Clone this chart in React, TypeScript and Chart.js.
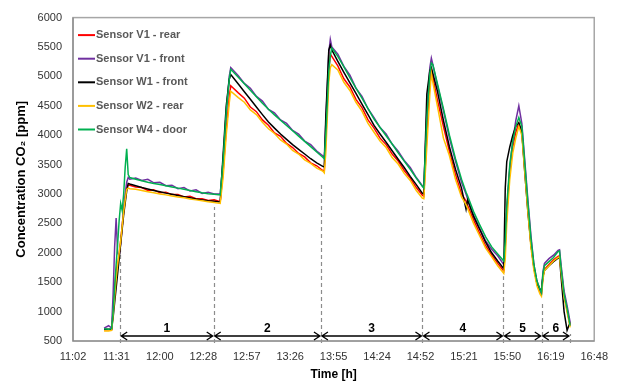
import React, { useEffect, useRef } from "react";
import { Chart, registerables } from "chart.js";

Chart.register(...registerables);

// ---- data ----
const times = [
  "11:23", "11:26", "11:28",
  "11:29", "11:30", "11:31", "11:32", "11:33", "11:34", "11:35", "11:36", "11:37", "11:38", "11:39",
  "11:40", "11:44", "11:48", "11:52", "11:56", "12:00", "12:04", "12:08", "12:12", "12:16", "12:20", "12:24", "12:28", "12:32", "12:36", "12:40",
  "12:42", "12:44", "12:46", "12:47",
  "12:52", "12:56", "13:00", "13:04", "13:08", "13:12", "13:16", "13:20", "13:24", "13:28", "13:32", "13:36", "13:40", "13:44", "13:48", "13:49",
  "13:50", "13:52", "13:53", "13:54",
  "13:58", "14:02", "14:06", "14:10", "14:14", "14:18", "14:22", "14:26", "14:30", "14:34", "14:38", "14:42", "14:46", "14:50", "14:54",
  "14:55", "14:57", "14:59", "15:00", "15:01",
  "15:04", "15:08", "15:12", "15:16", "15:20", "15:23", "15:24", "15:28", "15:32", "15:36", "15:40", "15:44", "15:48",
  "15:49", "15:50", "15:52", "15:54", "15:56", "15:58", "16:00",
  "16:02", "16:04", "16:06", "16:08", "16:10", "16:12", "16:13",
  "16:14", "16:15", "16:18", "16:21", "16:24", "16:25", "16:26", "16:28", "16:30", "16:32",
];

const sensorV1Rear = [
  690, 690, 690,
  1000, 1400, 1700, 1800, 1950, 2200, 2450, 2700, 2900, 3100, 3150,
  3150, 3120, 3110, 3060, 3070, 3020, 3030, 2990, 2990, 2950, 2960, 2920, 2920, 2890, 2900, 2870,
  3400, 4100, 4650, 4840,
  4720, 4630, 4480, 4400, 4260, 4170, 4040, 3980, 3860, 3790, 3690, 3630, 3530, 3480, 3400, 3390,
  3900, 5100, 5380, 5340,
  5180, 4960, 4820, 4610, 4470, 4260, 4120, 3950, 3840, 3680, 3560, 3400, 3270, 3110, 2980,
  2960, 4000, 4900, 5100, 4980,
  4600, 4150, 3720, 3330, 3000, 2880, 2810, 2560, 2330, 2120, 1960, 1820, 1690,
  2100, 2700, 3400, 3800, 4050, 4200, 4050,
  3400, 2750, 2150, 1750, 1480, 1330, 1300,
  1600, 1720, 1800, 1880, 1940, 1950, 1700, 1280, 1020, 760,
];

const sensorV1Front = [
  720, 760, 720,
  1300, 2100, 2590, 2000, 1950, 2150, 2450, 2750, 3000, 3200, 3280,
  3250, 3270, 3230, 3250, 3190, 3200, 3140, 3150, 3090, 3110, 3050, 3070, 3010, 3030, 3000, 3000,
  3600, 4400, 5000, 5150,
  5010, 4880, 4800, 4660, 4580, 4440, 4380, 4260, 4200, 4080, 4020, 3900, 3840, 3730, 3650, 3620,
  4200, 5400, 5630, 5500,
  5380, 5170, 5020, 4800, 4660, 4450, 4300, 4130, 4020, 3850, 3730, 3570, 3450, 3280, 3140,
  3110, 4400, 5150, 5310, 5200,
  4850, 4420, 3950, 3560, 3200, 3000, 2920, 2640, 2420, 2200, 2060, 1950, 1800,
  2150, 2700, 3450, 3900, 4250, 4500, 4200,
  3550, 2900, 2300, 1800, 1520, 1380, 1320,
  1680, 1820, 1900, 1960, 2040, 2050, 1800, 1350, 1100, 820,
];

const sensorW1Front = [
  700, 700, 700,
  900, 1150, 1400, 1650, 1900, 2150, 2400, 2650, 2850, 3050, 3180,
  3170, 3140, 3110, 3085, 3060, 3040, 3015, 2995, 2975, 2955, 2935, 2915, 2900, 2885, 2875, 2865,
  3700, 4500, 4950, 5030,
  4870, 4740, 4610, 4480, 4350, 4225, 4120, 4020, 3930, 3840, 3760, 3680, 3600, 3530, 3470, 3460,
  4300, 5450, 5530, 5450,
  5255, 5070, 4890, 4710, 4530, 4350, 4166, 4020, 3880, 3735, 3590, 3450, 3300, 3160, 3015,
  3000, 4700, 5100, 5150, 5050,
  4750, 4250, 3800, 3420, 3100, 2740, 2900, 2620, 2400, 2180, 2000, 1860, 1730,
  3100, 3550, 3800, 4000, 4150, 4210, 4050,
  3350, 2700, 2150, 1750, 1480, 1380, 1360,
  1600, 1700, 1780, 1850, 1910, 1920, 1600, 1000, 680, 820,
];

const sensorW2Rear = [
  670, 670, 680,
  950, 1250, 1550, 1800, 2000, 2200, 2450, 2700, 2900, 3080, 3100,
  3090, 3080, 3060, 3040, 3020, 3000, 2985, 2965, 2950, 2935, 2915, 2900, 2885, 2870, 2855, 2840,
  3300, 4000, 4550, 4750,
  4640, 4560, 4430, 4350, 4220, 4110, 4030, 3920, 3850, 3740, 3680, 3580, 3520, 3440, 3390, 3360,
  3700, 4900, 5150, 5200,
  5110, 4900, 4760, 4560, 4410, 4200, 4050, 3900, 3790, 3620, 3510, 3350, 3230, 3060, 2930,
  2920, 3800, 4700, 5050, 4900,
  4500, 3950, 3650, 3250, 2950, 2820, 2760, 2500, 2290, 2080, 1930, 1780, 1650,
  1900, 2500, 3250, 3700, 3950, 4150, 4000,
  3350, 2700, 2100, 1700, 1440, 1300, 1260,
  1550, 1700, 1780, 1860, 1920, 1930, 1680, 1250, 990, 730,
];

const sensorW4Door = [
  710, 700, 710,
  1000, 1400, 1800, 2150, 2550, 2840, 2720, 3000, 3450, 3770, 3330,
  3280, 3250, 3225, 3200, 3180, 3160, 3140, 3120, 3100, 3080, 3060, 3040, 3020, 3005, 2995, 2985,
  3600, 4400, 4950, 5120,
  4985, 4875, 4765, 4655, 4545, 4440, 4345, 4255, 4165, 4075, 3985, 3895, 3805, 3715, 3625, 3600,
  4000, 5100, 5350, 5480,
  5340, 5160, 4980, 4800, 4630, 4450, 4275, 4130, 3990, 3850, 3700, 3560, 3420, 3270, 3130,
  3100, 4300, 5050, 5226, 5200,
  4880, 4450, 4000, 3600, 3250, 3030, 2970, 2700, 2480, 2270, 2100, 1980, 1860,
  2200, 2800, 3500, 3900, 4150, 4300, 4150,
  3500, 2850, 2250, 1800, 1520, 1380, 1320,
  1650, 1780, 1850, 1920, 2020, 2030, 1750, 1300, 1050, 760,
];

const seriesLabels = [
  "Sensor V1 - rear",
  "Sensor V1 - front",
  "Sensor W1 - front",
  "Sensor W2 - rear",
  "Sensor W4 - door",
];
const seriesColors = ["#FF0000", "#7030A0", "#000000", "#FFC000", "#00B050"];
const seriesValues = [sensorV1Rear, sensorV1Front, sensorW1Front, sensorW2Rear, sensorW4Door];

// x axis (minutes after midnight) – Excel-like 0.02 day steps
const xTickMinutes = [662.4, 691.2, 720, 748.8, 777.6, 806.4, 835.2, 864, 892.8, 921.6, 950.4, 979.2, 1008];
const xTickLabels = ["11:02", "11:31", "12:00", "12:28", "12:57", "13:26", "13:55", "14:24", "14:52", "15:21", "15:50", "16:19", "16:48"];
const yMin = 500;
const yMax = 6000;
const yStep = 500;

// phases
const phaseBounds = [693.7, 755.7, 826.8, 894.1, 947.8, 973.2, 991.9];
const phaseDashTop = [2300, 2780, 3160, 2870, 1600, 1150, 620];
const phaseLabels = ["1", "2", "3", "4", "5", "6"];

const FONT = "'Liberation Sans', Arial, Helvetica, sans-serif";

function toMinutes(s: string): number {
  const [h, m] = s.split(":").map(Number);
  return h * 60 + m;
}

const decorPlugin = {
  id: "decor",
  beforeDatasetsDraw(chart: any) {
    const { ctx, chartArea: a, scales } = chart;
    const xs = scales.x;
    const ys = scales.y;
    ctx.save();
    ctx.strokeStyle = "#8c8c8c";
    ctx.lineWidth = 1.2;
    ctx.setLineDash([4, 3]);
    phaseBounds.forEach((t, i) => {
      const x = Math.round(xs.getPixelForValue(t)) + 0.5;
      ctx.beginPath();
      ctx.moveTo(x, a.bottom + 2);
      ctx.lineTo(x, ys.getPixelForValue(phaseDashTop[i]));
      ctx.stroke();
    });
    ctx.restore();
  },
  afterDatasetsDraw(chart: any) {
    const { ctx, chartArea: a, scales } = chart;
    const xs = scales.x;
    ctx.save();
    // plot frame
    ctx.strokeStyle = "#a6a6a6";
    ctx.lineWidth = 1.5;
    ctx.strokeRect(a.left, a.top, a.right - a.left, a.bottom - a.top);
    ctx.strokeStyle = "#868686";
    ctx.lineWidth = 1.2;
    ctx.beginPath();
    ctx.moveTo(a.left, a.top);
    ctx.lineTo(a.left, a.bottom);
    ctx.lineTo(a.right, a.bottom);
    ctx.stroke();

    // phase arrows
    const yA = a.bottom - 5;
    ctx.strokeStyle = "#000";
    ctx.fillStyle = "#000";
    ctx.lineWidth = 1.3;
    ctx.font = `bold 12px ${FONT}`;
    ctx.textAlign = "center";
    ctx.textBaseline = "middle";
    for (let i = 0; i < phaseLabels.length; i++) {
      const x1 = xs.getPixelForValue(phaseBounds[i]) + 1;
      const x2 = xs.getPixelForValue(phaseBounds[i + 1]) - 1;
      ctx.beginPath();
      ctx.moveTo(x1, yA);
      ctx.lineTo(x2, yA);
      ctx.moveTo(x1 + 6, yA - 4);
      ctx.lineTo(x1, yA);
      ctx.lineTo(x1 + 6, yA + 4);
      ctx.moveTo(x2 - 6, yA - 4);
      ctx.lineTo(x2, yA);
      ctx.lineTo(x2 - 6, yA + 4);
      ctx.stroke();
      ctx.fillText(phaseLabels[i], (x1 + x2) / 2, yA - 7.5);
    }

    // legend inside plot
    ctx.font = `bold 11px ${FONT}`;
    ctx.textAlign = "left";
    ctx.textBaseline = "middle";
    seriesLabels.forEach((lab, i) => {
      const y = a.top + 17.5 + i * 23.6;
      ctx.strokeStyle = seriesColors[i];
      ctx.lineWidth = 2;
      ctx.beginPath();
      ctx.moveTo(a.left + 5, y);
      ctx.lineTo(a.left + 22, y);
      ctx.stroke();
      ctx.fillStyle = "#595959";
      ctx.fillText(lab, a.left + 23, y);
    });
    ctx.restore();
  },
};

export default function App() {
  const canvasRef = useRef<HTMLCanvasElement | null>(null);

  useEffect(() => {
    if (!canvasRef.current) return;
    const xVals = times.map(toMinutes);
    const datasets = seriesValues.map((vals, i) => ({
      label: seriesLabels[i],
      data: vals.map((v, j) => ({ x: xVals[j], y: v })),
      borderColor: seriesColors[i],
      backgroundColor: seriesColors[i],
      borderWidth: 1.5,
      pointRadius: 0,
      tension: 0,
      fill: false,
      order: seriesLabels.length - 1 - i,
    }));

    const chart = new Chart(canvasRef.current, {
      type: "line",
      data: { datasets },
      options: {
        animation: false,
        responsive: true,
        maintainAspectRatio: false,
        layout: { padding: { left: 0, top: 14, right: 20, bottom: 0 } },
        plugins: {
          legend: { display: false },
          tooltip: { enabled: false },
        },
        scales: {
          x: {
            type: "linear",
            min: xTickMinutes[0],
            max: xTickMinutes[xTickMinutes.length - 1],
            afterBuildTicks: (scale: any) => {
              scale.ticks = xTickMinutes.map((v) => ({ value: v }));
            },
            afterFit: (scale: any) => {
              scale.height = 44;
            },
            grid: { display: false, drawTicks: false },
            border: { display: false },
            ticks: {
              autoSkip: false,
              maxRotation: 0,
              padding: 9,
              color: "#333333",
              font: { family: FONT, size: 11 },
              callback: (_v: any, i: number) => xTickLabels[i] ?? "",
            },
            title: {
              display: true,
              text: "Time [h]",
              color: "#000",
              font: { family: FONT, size: 12, weight: "bold" },
              padding: { top: 0, bottom: 3 },
            },
          },
          y: {
            min: yMin,
            max: yMax,
            afterFit: (scale: any) => {
              scale.width = 73;
            },
            grid: { display: false, drawTicks: false },
            border: { display: false },
            ticks: {
              stepSize: yStep,
              padding: 11,
              color: "#333333",
              font: { family: FONT, size: 11 },
              callback: (v: any) => String(v),
            },
            title: {
              display: true,
              text: "Concentration CO\u2082 [ppm]",
              color: "#000",
              font: { family: FONT, size: 13, weight: "bold" },
              padding: { top: 14, bottom: 0 },
            },
          },
        },
      },
      plugins: [decorPlugin],
    });
    return () => chart.destroy();
  }, []);

  return (
    <div style={{ position: "fixed", left: 0, top: 0, width: 617, height: 385, background: "#fff" }}>
      <canvas ref={canvasRef} />
    </div>
  );
}
